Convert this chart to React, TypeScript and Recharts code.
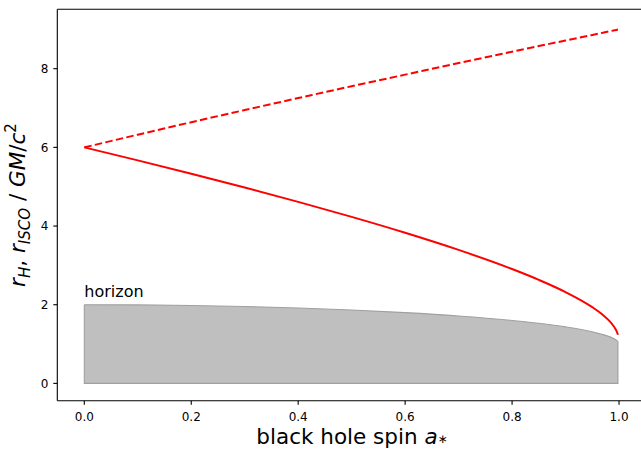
import React from "react";
import {
  ComposedChart,
  Line,
  Area,
  Scatter,
  XAxis,
  YAxis,
  ReferenceDot,
  ReferenceLine,
} from "recharts";

// black hole spin samples and radii (units of GM/c^2)
const spin = [0, 0.1, 0.2, 0.3, 0.4, 0.5, 0.6, 0.7, 0.8, 0.85, 0.9, 0.95, 0.97, 0.98, 0.99, 0.995, 0.998];
const iscoPrograde = [6, 5.669, 5.329, 4.979, 4.614, 4.233, 3.829, 3.393, 2.907, 2.632, 2.321, 1.937, 1.737, 1.614, 1.454, 1.341, 1.237];
const iscoRetrograde = [6, 6.323, 6.639, 6.949, 7.253, 7.555, 7.849, 8.143, 8.432, 8.575, 8.717, 8.858, 8.915, 8.944, 8.972, 8.986, 8.994];
const horizon = [2, 1.995, 1.98, 1.954, 1.917, 1.866, 1.8, 1.714, 1.6, 1.527, 1.436, 1.312, 1.243, 1.199, 1.141, 1.1, 1.063];

const xTicks = [0, 0.2, 0.4, 0.6, 0.8, 1.0];
const yTicks = [0, 2, 4, 6, 8];
const xDomain = [-0.0505, 1.0411];
const yDomain = [-0.44, 9.51];
const horizonNote = { a: 0, r: 2.2, text: "horizon" };

const rows = spin.map((a, i) => ({
  a,
  pro: iscoPrograde[i],
  retro: iscoRetrograde[i],
  rh: horizon[i],
}));

const last = spin.length - 1;
// sides and bottom of the horizon region
const outline = [
  { a: spin[0], v: horizon[0] },
  { a: spin[0], v: 0 },
  { a: spin[last], v: 0 },
  { a: spin[last], v: horizon[last] },
];

const FONT = "DejaVu Sans";
const tickStyle = { fontSize: 12, fill: "#000", fontFamily: FONT };

function YLabel(props: any) {
  const vb = props.viewBox;
  const cy = vb.y + vb.height / 2;
  const x = 25;
  const fs = 21.5;
  const sub = fs * 0.7;
  return (
    <text
      x={x}
      y={cy}
      transform={`rotate(-90 ${x} ${cy})`}
      textAnchor="middle"
      fontFamily={FONT}
      fontSize={fs}
      fill="#000"
    >
      <tspan fontStyle="italic">r</tspan>
      <tspan fontStyle="italic" fontSize={sub} dy={4.5}>H</tspan>
      <tspan dy={-4.5}>, </tspan>
      <tspan fontStyle="italic">r</tspan>
      <tspan fontStyle="italic" fontSize={sub} dy={4.5}>ISCO</tspan>
      <tspan dy={-4.5}> / </tspan>
      <tspan fontStyle="italic">GM</tspan>
      <tspan>/</tspan>
      <tspan fontStyle="italic">c</tspan>
      <tspan fontSize={sub} dy={-9}>2</tspan>
    </text>
  );
}

function XLabel(props: any) {
  const vb = props.viewBox;
  const cx = 352;
  const y = vb.y + 42.8;
  return (
    <text x={cx} y={y} textAnchor="middle" fontFamily={FONT} fontSize={21.5} fill="#000">
      <tspan>black hole spin </tspan>
      <tspan fontStyle="italic">a</tspan>
      <tspan fontSize={12} dy={-1}>∗</tspan>
    </text>
  );
}

const NoDot = () => <g />;

export default function App() {
  return (
    <div style={{ position: "absolute", left: 0, top: 0, background: "#fff" }}>
      <ComposedChart
        width={641}
        height={449}
        data={rows}
        margin={{ top: 9.3, right: 0, left: 0.3, bottom: 0 }}
      >
        <XAxis
          dataKey="a"
          type="number"
          domain={xDomain}
          allowDataOverflow
          ticks={xTicks}
          tickFormatter={(v: number) => v.toFixed(1)}
          tick={tickStyle}
          tickSize={4}
          tickMargin={7.6}
          height={48.3}
          axisLine={{ stroke: "#000", strokeWidth: 1.1 }}
          tickLine={{ stroke: "#000", strokeWidth: 1.1 }}
          label={XLabel}
        />
        <YAxis
          type="number"
          domain={yDomain}
          allowDataOverflow
          ticks={yTicks}
          tick={tickStyle}
          tickSize={4}
          tickMargin={5}
          width={57}
          axisLine={{ stroke: "#000", strokeWidth: 1.1 }}
          tickLine={{ stroke: "#000", strokeWidth: 1.1 }}
          label={YLabel}
        />
        <ReferenceLine y={yDomain[1]} stroke="#000" strokeWidth={1.1} />
        <Area
          dataKey="rh"
          type="monotone"
          baseValue={0}
          fill="#808080"
          fillOpacity={0.5}
          stroke="#a0a0a0"
          strokeWidth={1.1}
          isAnimationActive={false}
        />
        <Scatter
          data={outline}
          dataKey="v"
          line={{ stroke: "#a0a0a0", strokeWidth: 1.1 }}
          shape={NoDot}
          isAnimationActive={false}
        />
        <Line
          dataKey="retro"
          type="monotone"
          stroke="#ff0000"
          strokeWidth={2}
          strokeDasharray="7.5 3.3"
          dot={false}
          isAnimationActive={false}
        />
        <Line
          dataKey="pro"
          type="monotone"
          stroke="#ff0000"
          strokeWidth={2}
          dot={false}
          isAnimationActive={false}
        />
        <ReferenceDot
          x={horizonNote.a}
          y={horizonNote.r}
          r={0}
          shape={(p: any) => (
            <text x={p.cx} y={p.cy} fontFamily={FONT} fontSize={16} fill="#000">
              {horizonNote.text}
            </text>
          )}
        />
      </ComposedChart>
    </div>
  );
}
